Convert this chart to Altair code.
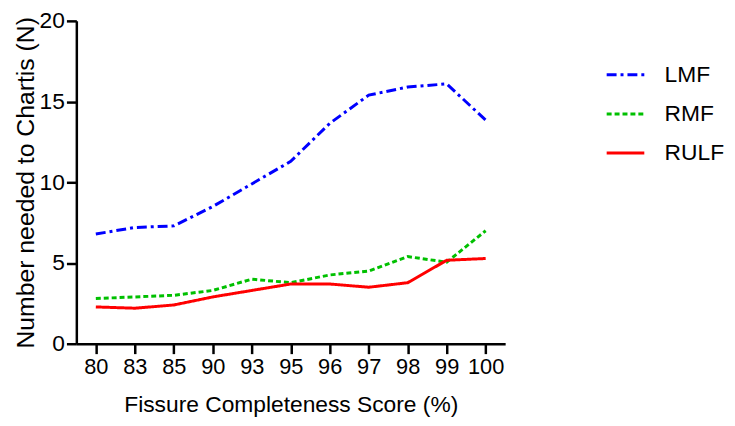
import altair as alt
import pandas as pd

scores = ["80", "83", "85", "90", "93", "95", "96", "97", "98", "99", "100"]
lmf = [6.8, 7.2, 7.3, 8.5, 9.9, 11.3, 13.65, 15.4, 15.9, 16.1, 13.85]
rmf = [2.8, 2.9, 3.0, 3.3, 4.0, 3.78, 4.26, 4.5, 5.4, 5.05, 7.0]
rulf = [2.28, 2.2, 2.4, 2.9, 3.3, 3.7, 3.7, 3.5, 3.78, 5.17, 5.28]
series = ["LMF", "RMF", "RULF"]
colors = ["#0000ff", "#00c000", "#ff0000"]
dashes = [[10, 4, 3, 4], [5, 3], [1, 0]]

rows = []
for name, vals in zip(series, [lmf, rmf, rulf]):
    for s, v in zip(scores, vals):
        rows.append({"score": s, "value": v, "series": name})
df = pd.DataFrame(rows)

FONT = "Liberation Sans"

chart = alt.Chart(df).mark_line(strokeWidth=3).encode(
    x=alt.X("score:O", sort=scores,
            scale=alt.Scale(type="point", padding=0.5),
            axis=alt.Axis(title="Fissure Completeness Score (%)", labelAngle=0,
                          labelFontSize=22, titleFontSize=23, labelPadding=3,
                          titlePadding=16, tickSize=10)),
    y=alt.Y("value:Q", scale=alt.Scale(domain=[0, 20], nice=False),
            axis=alt.Axis(title="Number needed to  Chartis (N)", values=[0, 5, 10, 15, 20],
                          labelFontSize=23, titleFontSize=25, labelPadding=2,
                          titlePadding=1, tickSize=10, grid=False)),
    color=alt.Color("series:N", scale=alt.Scale(domain=series, range=colors),
                    legend=alt.Legend(title=None)),
    strokeDash=alt.StrokeDash("series:N", scale=alt.Scale(domain=series, range=dashes),
                              legend=alt.Legend(title=None)),
).properties(
    width=433, height=326,
    autosize=alt.AutoSizeParams(type="none"),
    padding={"left": 69, "top": 11, "right": 224, "bottom": 74},
).configure_view(stroke=None).configure_axis(
    domainColor="black", domainWidth=2.5, tickColor="black", tickWidth=2.5,
    labelColor="black", titleColor="black", labelFont=FONT, titleFont=FONT,
    titleFontWeight="normal",
).configure_legend(
    orient="none", legendX=534, legendY=34, padding=0, symbolType="stroke",
    symbolSize=1444, symbolStrokeWidth=3, labelFontSize=23, labelFont=FONT,
    labelColor="black", rowPadding=6.5, labelOffset=19,
)

chart.save("out.html", embed_options={"renderer": "svg", "actions": False})
